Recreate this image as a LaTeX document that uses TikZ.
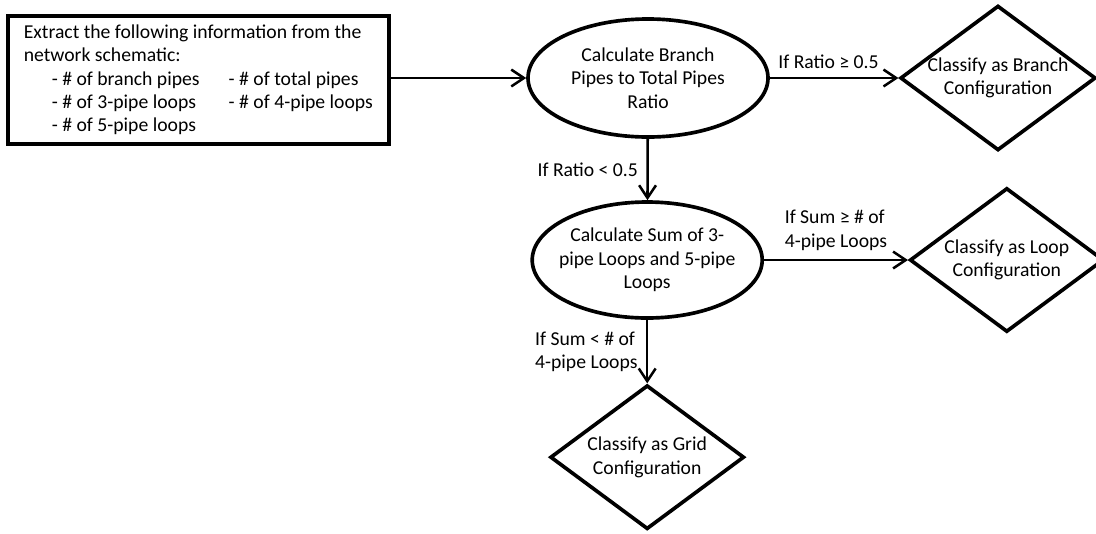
\documentclass[tikz,border=0pt]{standalone}
\usepackage{fontspec}
\setmainfont{Carlito}
\usetikzlibrary{shapes.geometric,arrows.meta}

\tikzset{
    infobox/.style={draw, line width=2.6pt, minimum width=9.45cm, minimum height=3.2cm, inner xsep=0.4cm, align=left},
    calc/.style={ellipse, draw, line width=2.6pt, minimum width=6cm, minimum height=2.95cm, inner xsep=-8pt, inner ysep=0pt, align=center},
    decision/.style={diamond, draw, line width=2.6pt, aspect=1.35, minimum width=4.85cm, minimum height=3.6cm, inner sep=0pt, align=center},
    flow/.style={-{Straight Barb[length=9pt,width=12pt]}, line width=1.8pt},
    cond/.style={align=left, inner sep=6pt}
}

\begin{document}
\begin{tikzpicture}[font=\fontsize{14pt}{16.6pt}\selectfont]
    \useasboundingbox (0,0) rectangle (27.4,-13.325);

    \node [infobox] (extract) at (4.96, -2.0) {Extract the following information from the\\
        network schematic:\\
        \hspace*{0.7cm}\makebox[4.425cm][l]{- \# of branch pipes}- \# of total pipes\\
        \hspace*{0.7cm}\makebox[4.425cm][l]{- \# of 3-pipe loops}- \# of 4-pipe loops\\
        \hspace*{0.7cm}- \# of 5-pipe loops};
    \node [calc] (ratio) at (16.2, -1.95) {Calculate Branch\\Pipes to Total Pipes\\Ratio};
    \node [decision] (branch) at (24.95, -1.95) {Classify as Branch\\Configuration};
    \node [calc, minimum width=5.75cm, minimum height=2.9cm] (sum) at (16.18, -6.5) {Calculate Sum of 3-\\pipe Loops and 5-pipe\\Loops};
    \node [decision] (loop) at (25.17, -6.5) {Classify as Loop\\Configuration};
    \node [decision] (grid) at (16.18, -11.43) {Classify as Grid\\Configuration};

    \draw [flow] (extract.east |- ratio) -- (ratio);
    \draw [flow] (ratio) -- node[cond, above, xshift=-4pt] {If Ratio ≥ 0.5} (branch);
    \draw [flow] (ratio) -- node[cond, left] {If Ratio < 0.5} (sum);
    \draw [flow] (sum) -- node[cond, above] {If Sum ≥ \# of\\4-pipe Loops} (loop);
    \draw [flow] (sum) -- node[cond, left] {If Sum < \# of\\4-pipe Loops} (grid);
\end{tikzpicture}
\end{document}
